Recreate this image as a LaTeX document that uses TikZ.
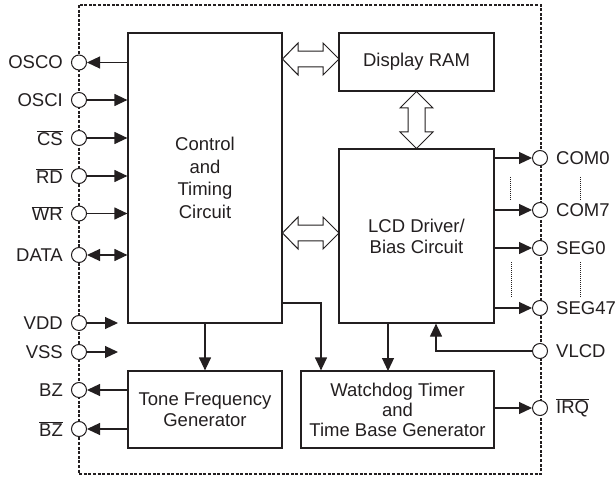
\documentclass[tikz,border=0pt]{standalone}
\usepackage{fontspec}
\setmainfont{Liberation Sans}
\usetikzlibrary{arrows.meta}
\definecolor{ink}{HTML}{231F20}
\newcommand{\ovl}[1]{\ensuremath{\overline{\mbox{#1}}}}
\begin{document}
\begin{tikzpicture}[x=1pt,y=-1pt,
  font=\fontsize{18.5}{21}\selectfont, text=ink,
  blk/.style={draw=ink, line width=1.2pt, inner sep=0pt, align=center},
  pin/.style={circle, draw=ink, fill=white, line width=1pt, minimum size=15pt, inner sep=0pt},
  wire/.style={draw=ink, line width=1.2pt},
  tip/.style={-{Triangle[length=13pt,width=12pt]}},
  btip/.style={{Triangle[length=13pt,width=12pt]}-{Triangle[length=13pt,width=12pt]}},
  lbl/.style={inner sep=0pt},
  fat/.style={draw=ink, line width=1pt, fill=white, line join=miter},
  dots/.style={draw=ink, line width=0.8pt, dash pattern=on 1pt off 1pt}
]
\useasboundingbox (0,0) rectangle (615,478);
% outer dashed box
\draw[ink, line width=1.1pt, dash pattern=on 3pt off 1.6pt] (79,5) rectangle (541,474);

% blocks
\node[blk, minimum width=154pt, minimum height=290pt, font=\fontsize{18.5}{22.5}\selectfont] (ctrl) at (205,178) {Control\\and\\Timing\\Circuit};
\node[blk, minimum width=155pt, minimum height=58pt] (ram) at (416.5,62) {Display RAM};
\node[blk, minimum width=155pt, minimum height=174pt] (lcd) at (416.5,236) {LCD Driver/\\Bias Circuit};
\node[blk, minimum width=154pt, minimum height=77pt] (tone) at (205,409.5) {Tone Frequency\\Generator};
\node[blk, minimum width=193pt, minimum height=77pt, font=\fontsize{18.5}{20}\selectfont] (wdt) at (397.5,409.5) {Watchdog Timer\\and\\Time Base Generator};

% left pins
\foreach \n/\y in {osco/62.5, osci/100, cs/138, rd/176, wr/213.5, data/255, vdd/323, vss/352, bz/390, bzb/429}{
  \node[pin] (\n) at (79,\y) {};
}
\node[lbl, anchor=east] at ([xshift=-8pt]osco.west) {OSCO};
\node[lbl, anchor=east] at ([xshift=-8pt]osci.west) {OSCI};
\node[lbl, anchor=east] at ([xshift=-8pt]cs.west) {\ovl{CS}};
\node[lbl, anchor=east] at ([xshift=-8pt]rd.west) {\ovl{RD}};
\node[lbl, anchor=east] at ([xshift=-8pt]wr.west) {\ovl{WR}};
\node[lbl, anchor=east] at ([xshift=-8pt]data.west) {DATA};
\node[lbl, anchor=east] at ([xshift=-8pt]vdd.west) {VDD};
\node[lbl, anchor=east] at ([xshift=-8pt]vss.west) {VSS};
\node[lbl, anchor=east] at ([xshift=-8pt]bz.west) {BZ};
\node[lbl, anchor=east] at ([xshift=-8pt]bzb.west) {\ovl{BZ}};

% right pins
\foreach \n/\y in {com0/158, com7/210, seg0/248, seg47/308, vlcd/351, irq/408}{
  \node[pin] (\n) at (540,\y) {};
}
\node[lbl, anchor=west] at ([xshift=8pt]com0.east) {COM0};
\node[lbl, anchor=west] at ([xshift=8pt]com7.east) {COM7};
\node[lbl, anchor=west] at ([xshift=8pt]seg0.east) {SEG0};
\node[lbl, anchor=west] at ([xshift=8pt]seg47.east) {SEG47};
\node[lbl, anchor=west] at ([xshift=8pt]vlcd.east) {VLCD};
\node[lbl, anchor=west] at ([xshift=8pt]irq.east) {\ovl{IRQ}};

% left connectors
\draw[wire, tip] (ctrl.west |- osco) -- (osco.east);
\draw[wire, tip] (osci.east) -- (ctrl.west |- osci);
\draw[wire, tip] (cs.east) -- (ctrl.west |- cs);
\draw[wire, tip] (rd.east) -- (ctrl.west |- rd);
\draw[wire, tip] (wr.east) -- (ctrl.west |- wr);
\draw[wire, btip] (data.east) -- (ctrl.west |- data);
\coordinate (vddend) at (118,323);
\coordinate (vssend) at (118,352);
\draw[wire, tip] (vdd.east) -- (vddend);
\draw[wire, tip] (vss.east) -- (vssend);
\draw[wire, tip] (tone.west |- bz) -- (bz.east);
\draw[wire, tip] (tone.west |- bzb) -- (bzb.east);

% right connectors
\draw[wire, tip] (lcd.east |- com0) -- (com0.west);
\draw[wire, tip] (lcd.east |- com7) -- (com7.west);
\draw[wire, tip] (lcd.east |- seg0) -- (seg0.west);
\draw[wire, tip] (lcd.east |- seg47) -- (seg47.west);
\coordinate (vlcdk) at (436,351);
\draw[wire, tip] (vlcd.west) -- (vlcdk) -- (vlcdk |- lcd.south);
\draw[wire, tip] (wdt.east |- irq) -- (irq.west);

% internal connectors
\draw[wire, tip] (ctrl.south) -- (tone.north);
\coordinate (cw1) at (282,303);
\coordinate (cw2) at (321,303);
\draw[wire, tip] (cw1) -- (cw2) -- (cw2 |- wdt.north);
\draw[wire, tip] (lcd.south -| 388,0) -- (388,371);

% dotted continuation marks
\draw[dots] (510,177) -- (510,201);
\draw[dots] (580,177) -- (580,201);
\draw[dots] (511,262) -- (511,298);
\draw[dots] (580,262) -- (580,298);

% fat double arrows
% control <-> RAM (horizontal)
\draw[fat] (282.5,59) -- (298,43) -- (298,51.2) -- (323,51.2) -- (323,43) -- (339,59)
  -- (323,75) -- (323,66.8) -- (298,66.8) -- (298,75) -- cycle;
% control <-> LCD (horizontal)
\draw[fat] (282.5,233) -- (298,217) -- (298,225.2) -- (323,225.2) -- (323,217) -- (339,233)
  -- (323,249) -- (323,240.8) -- (298,240.8) -- (298,249) -- cycle;
% RAM <-> LCD (vertical)
\draw[fat] (416.5,91.5) -- (433,108) -- (425,108) -- (425,132) -- (433,132) -- (416.5,148.5)
  -- (400,132) -- (408,132) -- (408,108) -- (400,108) -- cycle;
\end{tikzpicture}
\end{document}
